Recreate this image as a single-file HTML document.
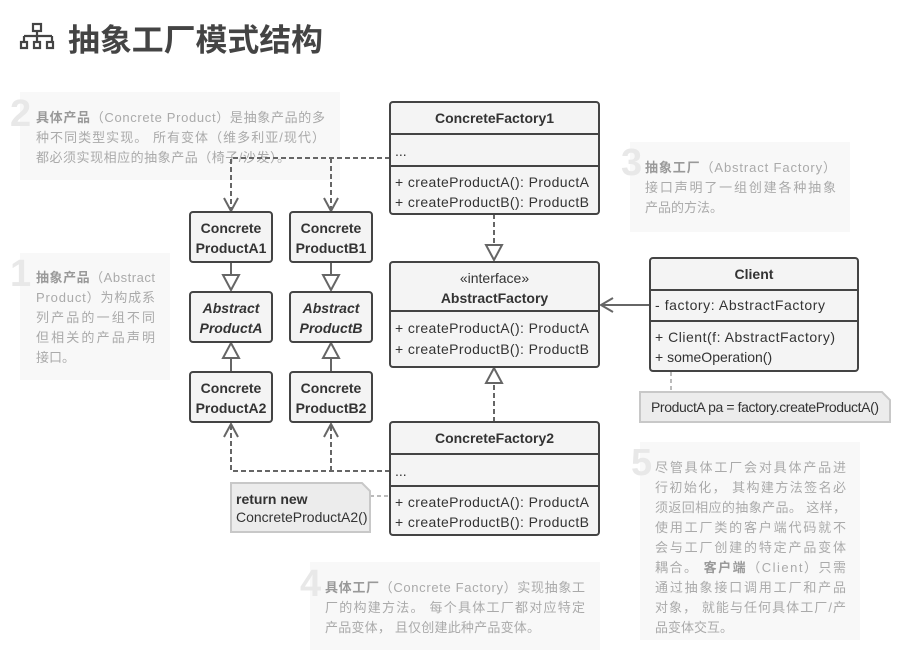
<!DOCTYPE html>
<html><head><meta charset="utf-8"><style>
html,body{margin:0;padding:0;background:#fff;}
svg{display:block;}
.t{font-family:"Liberation Sans","Noto Sans CJK SC",sans-serif;}
.n{font-family:"Liberation Sans","Noto Sans CJK SC",sans-serif;font-size:13px;fill:#aaa;}
.nb{font-weight:bold;fill:#999;}
.big{font-family:"Liberation Sans",sans-serif;font-size:38px;font-weight:bold;fill:#e8e8e8;}
.m{font-family:"Liberation Sans",sans-serif;font-size:14px;fill:#333;}
.b{font-weight:bold;}
.box{fill:#f4f4f4;stroke:#444;stroke-width:2;}
.ln{stroke:#444;stroke-width:2;}
.c{stroke:#666;stroke-width:2;fill:none;}
.d{stroke:#666;stroke-width:2;fill:none;stroke-dasharray:5,3;}
.tri{fill:#fff;stroke:#666;stroke-width:2;}
</style></head><body>
<svg width="916" height="653" viewBox="0 0 916 653" xmlns="http://www.w3.org/2000/svg">
<g fill="none" stroke="#444" stroke-width="2.2">
<rect x="33" y="24" width="8" height="7"/>
<path d="M37 31v5M24 36h28M24 36v5M52 36v5M37 36v5"/>
<rect x="21" y="42" width="6" height="6"/><rect x="34" y="42" width="6" height="6"/><rect x="47" y="42" width="6" height="6"/>
</g>
<text class="t" x="68" y="51" font-size="31" font-weight="bold" fill="#444" textLength="255" lengthAdjust="spacingAndGlyphs">抽象工厂模式结构</text>

<rect x="20" y="92" width="320" height="88" fill="#f8f8f8"/>
<text class="big" x="10" y="126">2</text>
<text class="n" x="36" y="122" textLength="289" lengthAdjust="spacing"><tspan class="nb">具体产品</tspan>（Concrete Product）是抽象产品的多</text>
<text class="n" x="36" y="142" textLength="289" lengthAdjust="spacing">种不同类型实现。 所有变体（维多利亚/现代）</text>
<text class="n" x="36" y="162" textLength="254" lengthAdjust="spacing">都必须实现相应的抽象产品（椅子/沙发）。</text>

<rect x="20" y="253" width="150" height="127" fill="#f8f8f8"/>
<text class="big" x="10" y="286">1</text>
<text class="n" x="36" y="282" textLength="119" lengthAdjust="spacing"><tspan class="nb">抽象产品</tspan>（Abstract</text>
<text class="n" x="36" y="302" textLength="119" lengthAdjust="spacing">Product）为构成系</text>
<text class="n" x="36" y="322" textLength="119" lengthAdjust="spacing">列产品的一组不同</text>
<text class="n" x="36" y="342" textLength="119" lengthAdjust="spacing">但相关的产品声明</text>
<text class="n" x="36" y="362">接口。</text>

<rect x="630" y="142" width="220" height="90" fill="#f8f8f8"/>
<text class="big" x="621" y="175">3</text>
<text class="n" x="645" y="172" textLength="191" lengthAdjust="spacing"><tspan class="nb">抽象工厂</tspan>（Abstract Factory）</text>
<text class="n" x="645" y="192" textLength="191" lengthAdjust="spacing">接口声明了一组创建各种抽象</text>
<text class="n" x="645" y="212">产品的方法。</text>

<rect x="640" y="442" width="220" height="198" fill="#f8f8f8"/>
<text class="big" x="631" y="475">5</text>
<text class="n" x="655" y="472" textLength="191" lengthAdjust="spacing">尽管具体工厂会对具体产品进</text>
<text class="n" x="655" y="492" textLength="191" lengthAdjust="spacing">行初始化， 其构建方法签名必</text>
<text class="n" x="655" y="512" textLength="191" lengthAdjust="spacing">须返回相应的抽象产品。 这样，</text>
<text class="n" x="655" y="532" textLength="191" lengthAdjust="spacing">使用工厂类的客户端代码就不</text>
<text class="n" x="655" y="552" textLength="191" lengthAdjust="spacing">会与工厂创建的特定产品变体</text>
<text class="n" x="655" y="572" textLength="191" lengthAdjust="spacing">耦合。 <tspan class="nb">客户端</tspan>（Client）只需</text>
<text class="n" x="655" y="592" textLength="191" lengthAdjust="spacing">通过抽象接口调用工厂和产品</text>
<text class="n" x="655" y="612" textLength="191" lengthAdjust="spacing">对象， 就能与任何具体工厂/产</text>
<text class="n" x="655" y="632">品变体交互。</text>

<rect x="310" y="562" width="290" height="88" fill="#f8f8f8"/>
<text class="big" x="300" y="596">4</text>
<text class="n" x="325" y="592" textLength="260" lengthAdjust="spacing"><tspan class="nb">具体工厂</tspan>（Concrete Factory）实现抽象工</text>
<text class="n" x="325" y="612" textLength="260" lengthAdjust="spacing">厂的构建方法。 每个具体工厂都对应特定</text>
<text class="n" x="325" y="632" textLength="215" lengthAdjust="spacing">产品变体， 且仅创建此种产品变体。</text>

<path class="d" d="M390 158H231V210M331 158V210"/>
<path class="c" d="M224 198l7 13 7-13M324 198l7 13 7-13"/>
<path class="d" d="M390 471H231V425M331 471V425"/>
<path class="c" d="M224 437l7-13 7 13M324 437l7-13 7 13"/>
<path class="c" d="M231 262v13M331 262v13M231 358v14M331 358v14"/>
<path class="tri" d="M223 275h16l-8 15zM323 275h16l-8 15zM223 358h16l-8-15zM323 358h16l-8-15z"/>
<path class="d" d="M494 214v31M494 422v-39"/>
<path class="tri" d="M486 245h16l-8 15zM486 383h16l-8-15z"/>
<path class="c" d="M601 305H650M613 298l-12 7 12 7"/>
<path d="M370 496H390M671 372V392" stroke="#bbb" stroke-width="2" stroke-dasharray="4,3" fill="none"/>

<path d="M231 483H362l8 8V532H231Z" fill="#ececec" stroke="#c8c8c8" stroke-width="2"/>
<text class="m" x="236" y="504" font-size="13" font-weight="bold">return new</text>
<text class="m" x="236" y="522" font-size="13">ConcreteProductA2()</text>
<path d="M640 392H882l8 8V422H640Z" fill="#ececec" stroke="#c8c8c8" stroke-width="2"/>
<text class="m" x="651" y="412" font-size="13" textLength="228">ProductA pa = factory.createProductA()</text>

<rect class="box" x="390" y="102" width="209" height="112" rx="3"/>
<path class="ln" d="M390 134H599M390 166H599"/>
<text class="m b" x="494.5" y="123" text-anchor="middle">ConcreteFactory1</text>
<text class="m" x="395" y="156">...</text>
<text class="m" x="395" y="187" textLength="194">+ createProductA(): ProductA</text>
<text class="m" x="395" y="207" textLength="194">+ createProductB(): ProductB</text>

<rect class="box" x="390" y="262" width="209" height="105" rx="3"/>
<path class="ln" d="M390 311H599"/>
<text class="m" x="494.5" y="283" text-anchor="middle">«interface»</text>
<text class="m b" x="494.5" y="303" text-anchor="middle">AbstractFactory</text>
<text class="m" x="395" y="333" textLength="194">+ createProductA(): ProductA</text>
<text class="m" x="395" y="354" textLength="194">+ createProductB(): ProductB</text>

<rect class="box" x="390" y="422" width="209" height="113" rx="3"/>
<path class="ln" d="M390 454H599M390 486H599"/>
<text class="m b" x="494.5" y="443" text-anchor="middle">ConcreteFactory2</text>
<text class="m" x="395" y="476">...</text>
<text class="m" x="395" y="507" textLength="194">+ createProductA(): ProductA</text>
<text class="m" x="395" y="527" textLength="194">+ createProductB(): ProductB</text>

<rect class="box" x="650" y="258" width="208" height="113" rx="3"/>
<path class="ln" d="M650 290H858M650 321H858"/>
<text class="m b" x="754" y="279" text-anchor="middle">Client</text>
<text class="m" x="655" y="310" textLength="170">- factory: AbstractFactory</text>
<text class="m" x="655" y="342" textLength="180">+ Client(f: AbstractFactory)</text>
<text class="m" x="655" y="362">+ someOperation()</text>

<rect class="box" x="190" y="212" width="82" height="50" rx="3"/>
<text class="m b" x="231" y="233" text-anchor="middle">Concrete</text>
<text class="m b" x="231" y="253" text-anchor="middle">ProductA1</text>
<rect class="box" x="290" y="212" width="82" height="50" rx="3"/>
<text class="m b" x="331" y="233" text-anchor="middle">Concrete</text>
<text class="m b" x="331" y="253" text-anchor="middle">ProductB1</text>
<rect class="box" x="190" y="292" width="82" height="50" rx="3"/>
<text class="m b" x="231" y="313" text-anchor="middle" font-style="italic">Abstract</text>
<text class="m b" x="231" y="333" text-anchor="middle" font-style="italic">ProductA</text>
<rect class="box" x="290" y="292" width="82" height="50" rx="3"/>
<text class="m b" x="331" y="313" text-anchor="middle" font-style="italic">Abstract</text>
<text class="m b" x="331" y="333" text-anchor="middle" font-style="italic">ProductB</text>
<rect class="box" x="190" y="372" width="82" height="50" rx="3"/>
<text class="m b" x="231" y="393" text-anchor="middle">Concrete</text>
<text class="m b" x="231" y="413" text-anchor="middle">ProductA2</text>
<rect class="box" x="290" y="372" width="82" height="50" rx="3"/>
<text class="m b" x="331" y="393" text-anchor="middle">Concrete</text>
<text class="m b" x="331" y="413" text-anchor="middle">ProductB2</text>
</svg>
</body></html>
